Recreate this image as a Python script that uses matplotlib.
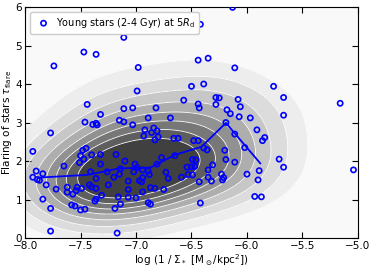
import numpy as np
import matplotlib

matplotlib.use("Agg")
import matplotlib.pyplot as plt

# young stars (2-4 Gyr) at 5 R_d: log(1/Sigma_*) vs flaring
star_x = [
    -6.13, -6.42, -7.11, -7.47, -7.36, -7.74, -6.98, -6.44, -6.35, -6.11,
    -6.99, -6.50, -6.39, -5.76, -5.67, -6.57, -6.28, -6.25, -6.08, -6.06,
    -6.28, -6.44, -6.43, -6.18, -6.15, -6.07, -5.97, -5.16, -5.67, -5.91,
    -6.19, -6.11, -5.84, -5.86, -6.48, -6.44, -6.39, -6.36, -6.20, -6.19,
    -6.02, -6.11, -5.71, -5.67, -5.04, -6.49, -6.46, -6.31, -6.35, -6.47,
    -6.50, -6.54, -5.89, -6.00, -6.53, -6.49, -6.23, -6.21, -6.22, -6.35,
    -6.32, -6.43, -5.90, -5.93, -5.87, -6.42, -7.44, -7.32, -7.46, -7.39,
    -7.36, -7.35, -7.77, -7.93, -7.45, -7.48, -7.50, -7.47, -7.40, -7.32,
    -7.51, -7.32, -7.65, -7.90, -7.84, -7.41, -7.93, -7.89, -7.87, -7.36,
    -7.81, -7.42, -7.40, -7.36, -7.72, -7.62, -7.53, -7.49, -7.54, -7.62,
    -7.57, -7.31, -7.84, -7.36, -7.37, -7.58, -7.55, -7.50, -7.46, -7.77,
    -7.77, -7.11, -7.03, -6.82, -6.89, -6.69, -7.15, -7.11, -7.03, -6.84,
    -6.92, -6.81, -6.86, -6.93, -6.80, -6.83, -6.66, -6.62, -7.18, -6.65,
    -6.77, -7.10, -7.01, -6.81, -6.99, -7.14, -7.26, -7.15, -7.20, -7.02,
    -6.94, -6.89, -6.88, -6.73, -6.71, -6.94, -6.59, -7.07, -6.97, -6.95,
    -7.25, -7.07, -6.87, -6.83, -6.75, -6.94, -7.16, -7.07, -7.00, -6.89,
    -6.87, -7.14, -7.19, -7.17,
]
star_flare = [
    5.99, 5.55, 5.21, 4.83, 4.77, 4.47, 4.43, 4.62, 4.67, 4.42,
    3.82, 3.94, 4.00, 3.94, 3.65, 3.58, 3.65, 3.64, 3.60, 3.41,
    3.47, 3.48, 3.38, 3.33, 3.23, 3.15, 3.12, 3.50, 3.19, 2.81,
    3.00, 2.70, 2.61, 2.53, 2.53, 2.53, 2.34, 2.29, 2.28, 2.04,
    2.35, 1.97, 2.05, 1.84, 1.77, 2.04, 2.03, 1.90, 1.77, 1.86,
    1.85, 1.84, 1.75, 1.66, 1.65, 1.64, 1.66, 1.57, 1.51, 1.58,
    1.48, 1.46, 1.51, 1.08, 1.07, 0.91, 3.47, 3.21, 3.01, 2.95,
    2.98, 2.94, 2.73, 2.25, 2.33, 2.28, 2.14, 2.05, 2.16, 2.17,
    1.96, 1.92, 1.87, 1.74, 1.67, 1.72, 1.58, 1.52, 1.50, 1.55,
    1.38, 1.38, 1.33, 1.29, 1.27, 1.32, 1.32, 1.29, 1.23, 1.19,
    1.14, 1.11, 1.01, 1.01, 0.96, 0.86, 0.83, 0.73, 0.75, 0.77,
    0.18, 3.36, 3.38, 3.38, 3.12, 3.12, 3.06, 3.02, 2.94, 2.86,
    2.81, 2.78, 2.74, 2.65, 2.63, 2.55, 2.59, 2.59, 2.17, 2.14,
    2.09, 2.00, 1.92, 1.92, 1.83, 1.80, 1.72, 1.66, 1.58, 1.72,
    1.77, 1.74, 1.65, 1.71, 1.55, 1.57, 1.58, 1.48, 1.49, 1.46,
    1.38, 1.26, 1.31, 1.29, 1.26, 1.20, 1.07, 1.06, 1.04, 0.92,
    0.88, 0.88, 0.77, 0.13,
]

# binned median trend
trend_x = [-7.88, -7.44, -7.15, -6.87, -6.65, -6.41, -6.19, -5.88]
trend_y = [1.57, 1.64, 1.81, 1.83, 2.16, 2.37, 2.99, 1.94]

# density levels (fraction of peak)
level_frac = [0.0, 0.19, 0.29, 0.39, 0.49, 0.58, 0.66, 0.74, 0.82, 1.0001]


def kde_grid(x, y, gx, gy, scale=1.0):
    x = np.asarray(x)
    y = np.asarray(y)
    n = len(x)
    bx = 1.06 * x.std() * n ** -0.2 * scale
    by = 1.06 * y.std() * n ** -0.2 * scale
    xx, yy = np.meshgrid(gx, gy)
    z = np.zeros_like(xx)
    for xi, yi in zip(x, y):
        z += np.exp(-0.5 * (((xx - xi) / bx) ** 2 + ((yy - yi) / by) ** 2))
    return xx, yy, z / (n * 2 * np.pi * bx * by)


def main() -> None:
    fig = plt.figure(figsize=(3.74, 2.69), dpi=100)
    ax = fig.add_axes([0.067, 0.115, 0.89, 0.859])

    gx = np.linspace(-8.0, -5.0, 200)
    gy = np.linspace(0.0, 6.0, 200)
    xx, yy, z = kde_grid(star_x, star_flare, gx, gy, scale=1.85)
    levels = np.array(level_frac) * z.max()
    colors = plt.cm.Greys(np.linspace(0.05, 0.8, len(levels) - 1))
    ax.contourf(xx, yy, z, levels=levels, colors=colors)
    ax.contour(xx, yy, z, levels=levels[1:-1], colors="white", linewidths=0.6)

    ax.scatter(star_x, star_flare, s=14, facecolors="none", edgecolors="blue",
               linewidths=1.2, label=r"Young stars (2-4 Gyr) at 5$R_{\rm d}$", zorder=3)
    ax.plot(trend_x, trend_y, color="blue", lw=1.3, zorder=4)

    ax.set_xlim(-8.0, -5.0)
    ax.set_ylim(0, 6)
    ax.set_xticks(np.arange(-8.0, -4.9, 0.5))
    ax.set_yticks(range(0, 7))
    ax.tick_params(direction="in", top=True, right=True, labelsize=7.5, length=4, pad=2)
    ax.set_xlabel(r"log (1 / $\Sigma_*$ [M$_\odot$/kpc$^2$])", fontsize=7.5, labelpad=1)
    ax.set_ylabel(r"Flaring of stars $\tau_{\rm flare}$", fontsize=7.5, labelpad=1)
    leg = ax.legend(loc="upper left", fontsize=7, handletextpad=0.3, borderpad=0.4,
                    framealpha=1.0, scatterpoints=1)
    leg.get_frame().set_edgecolor("#cccccc")

    fig.savefig("out.png", dpi=100)
    plt.close(fig)


if __name__ == "__main__":
    main()
